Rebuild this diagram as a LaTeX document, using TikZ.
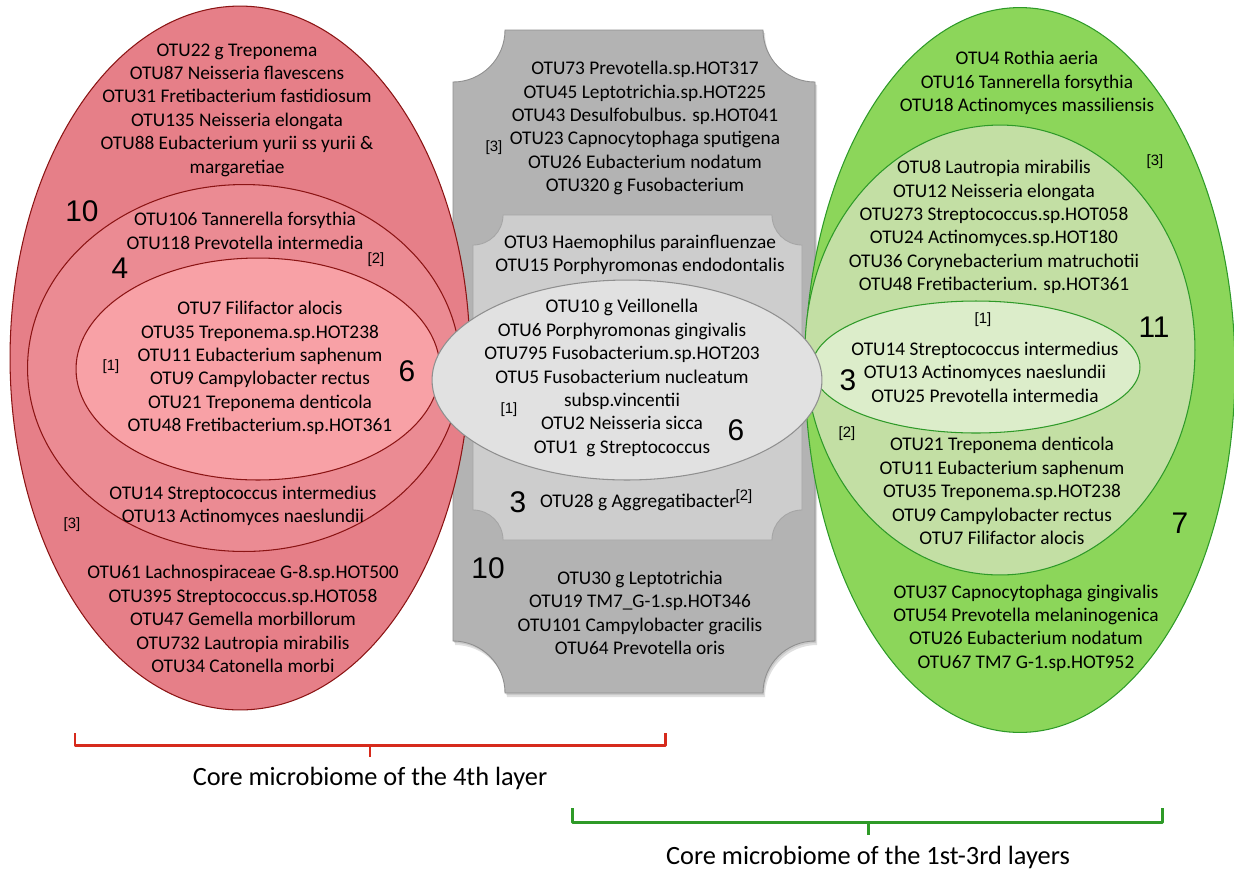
\documentclass[tikz,border=0pt]{standalone}
\usepackage{fontspec}
\setmainfont{Carlito}
\newfontfamily\numfont{Liberation Sans}
\usetikzlibrary{shapes.geometric}
\definecolor{redA}{HTML}{E67F88}
\definecolor{redB}{HTML}{EB8B93}
\definecolor{redC}{HTML}{F8A1A6}
\definecolor{redLine}{HTML}{8B1414}
\definecolor{grnA}{HTML}{8CD65A}
\definecolor{grnB}{HTML}{C3DFA4}
\definecolor{grnC}{HTML}{DCEDCA}
\definecolor{grnLine}{HTML}{2E9A28}
\definecolor{grayA}{HTML}{B3B3B3}
\definecolor{grayB}{HTML}{CDCDCD}
\definecolor{grayC}{HTML}{E1E1E1}
\definecolor{grayLine}{HTML}{8F8F8F}
\definecolor{brRed}{HTML}{D62A1C}
\definecolor{brGrn}{HTML}{2E9A28}
\newcommand\myplaque[6]{%
  \path[#1] ({#2+#6},#3) -- ({#4-#6},#3)
    arc[start angle=180,end angle=270,radius=#6*0.02cm] -- (#4,{#5-#6})
    arc[start angle=90,end angle=180,radius=#6*0.02cm] -- ({#2+#6},#5)
    arc[start angle=0,end angle=90,radius=#6*0.02cm] -- (#2,{#3+#6})
    arc[start angle=270,end angle=360,radius=#6*0.02cm] -- cycle;}
\begin{document}
\begin{tikzpicture}[x=0.02cm,y=-0.02cm,
  otu/.style={align=center,font=\fontsize{11}{13.3}\selectfont,inner sep=0pt},
  big/.style={font=\numfont\fontsize{17}{17}\selectfont,inner sep=0pt},
  ref/.style={font=\numfont\fontsize{8.5}{8.5}\selectfont,inner sep=0pt},
  captext/.style={font=\fontsize{15}{15}\selectfont,inner sep=0pt},
  ell/.style={ellipse,inner sep=0pt,line width=0.6pt},
  redell/.style={ell,draw=redLine},
  grnell/.style={ell,draw=grnLine},
  bracket/.style={line width=1.7pt,line join=round}]
\useasboundingbox (0,0) rectangle (1234,870);
% gray plaques (with soft shadow)
\myplaque{fill=black,opacity=0.12}{455}{33}{817}{697}{52}
\myplaque{fill=black,opacity=0.10}{454}{32}{816}{695}{52}
\myplaque{fill=grayA,draw=grayLine,line width=0.5pt}{453}{30}{815}{693}{52}
\myplaque{fill=grayB,draw=grayLine!80,line width=0.5pt}{473}{215}{802}{540}{30}
% red ellipses
\node[redell,fill=redA,minimum width=9.2cm,minimum height=14.08cm] (redouter) at (240,358) {};
\node[redell,fill=redB,minimum width=8.66cm,minimum height=7.34cm] (redmid) at (244,368) {};
\node[redell,fill=redC,minimum width=7.28cm,minimum height=4.44cm] (redinner) at (258,369) {};
% green ellipses
\node[grnell,fill=grnA,minimum width=8.6cm,minimum height=14.5cm] (grnouter) at (1020,370) {};
\node[grnell,fill=grnB,minimum width=7.8cm,minimum height=9.0cm] (grnmid) at (1000,350) {};
\node[grnell,fill=grnC,minimum width=6.56cm,minimum height=2.64cm] (grninner) at (976,367) {};
% central ellipse
\node[ell,draw=grayLine,fill=grayC,minimum width=7.8cm,minimum height=4.0cm] (core) at (627,380) {};
% red texts
\node[otu] (rA) at (237,110) {OTU22 g Treponema\\OTU87 Neisseria flavescens\\OTU31 Fretibacterium fastidiosum\\OTU135 Neisseria elongata\\OTU88 Eubacterium yurii ss yurii \&\\margaretiae};
\node[big] (rn10) at (82,211) {10};
\node[otu] (rB) at (245,231) {OTU106 Tannerella forsythia\\OTU118 Prevotella intermedia};
\node[big] (rn4) at (120,268) {4};
\node[ref] (rr2) at (376,260) {[2]};
\node[otu] (rC) at (260,368) {OTU7 Filifactor alocis\\OTU35 Treponema.sp.HOT238\\OTU11 Eubacterium saphenum\\OTU9 Campylobacter rectus\\OTU21 Treponema denticola\\OTU48 Fretibacterium.sp.HOT361};
\node[ref] (rr1) at (111,367) {[1]};
\node[big] (rn6) at (407,371) {6};
\node[otu] (rD) at (243,506) {OTU14 Streptococcus intermedius\\OTU13 Actinomyces naeslundii};
\node[ref] (rr3) at (72,525) {[3]};
\node[otu] (rE) at (243,619) {OTU61 Lachnospiraceae G-8.sp.HOT500\\OTU395 Streptococcus.sp.HOT058\\OTU47 Gemella morbillorum\\OTU732 Lautropia mirabilis\\OTU34 Catonella morbi};
% gray texts
\node[otu] (gA) at (645,128) {OTU73 Prevotella.sp.HOT317\\OTU45 Leptotrichia.sp.HOT225\\OTU43 Desulfobulbus. sp.HOT041\\OTU23 Capnocytophaga sputigena\\OTU26 Eubacterium nodatum\\OTU320 g Fusobacterium};
\node[ref] (gr3) at (494,148) {[3]};
\node[otu] (gB) at (640,255) {OTU3 Haemophilus parainfluenzae\\OTU15 Porphyromonas endodontalis};
\node[otu] (gC) at (622,378) {OTU10 g Veillonella\\OTU6 Porphyromonas gingivalis\\OTU795 Fusobacterium.sp.HOT203\\OTU5 Fusobacterium nucleatum\\subsp.vincentii\\OTU2 Neisseria sicca\\OTU1\ \ g Streptococcus};
\node[ref] (gr1) at (509,410) {[1]};
\node[big] (gn6) at (736,430) {6};
\node[big] (gn3) at (518,502) {3};
\node[otu] (gD) at (638,502) {OTU28 g Aggregatibacter};
\node[ref] (gr2) at (744,497) {[2]};
\node[big] (gn10) at (488,568) {10};
\node[otu] (gE) at (640,613) {OTU30 g Leptotrichia\\OTU19 TM7\_G-1.sp.HOT346\\OTU101 Campylobacter gracilis\\OTU64 Prevotella oris};
% green texts
\node[otu] (eA) at (1027,83) {OTU4 Rothia aeria\\OTU16 Tannerella forsythia\\OTU18 Actinomyces massiliensis};
\node[otu] (eB) at (994,227) {OTU8 Lautropia mirabilis\\OTU12 Neisseria elongata\\OTU273 Streptococcus.sp.HOT058\\OTU24 Actinomyces.sp.HOT180\\OTU36 Corynebacterium matruchotii\\OTU48 Fretibacterium. sp.HOT361};
\node[ref] (er3) at (1155,162) {[3]};
\node[ref] (er1) at (983,320) {[1]};
\node[big] (en11) at (1154,327) {11};
\node[otu] (eC) at (985,372) {OTU14 Streptococcus intermedius\\OTU13 Actinomyces naeslundii\\OTU25 Prevotella intermedia};
\node[big] (en3) at (848,380) {3};
\node[ref] (er2) at (847,434) {[2]};
\node[otu] (eD) at (1002,491) {OTU21 Treponema denticola\\OTU11 Eubacterium saphenum\\OTU35 Treponema.sp.HOT238\\OTU9 Campylobacter rectus\\OTU7 Filifactor alocis};
\node[big] (en7) at (1180,523) {7};
\node[otu] (eE) at (1026,628) {OTU37 Capnocytophaga gingivalis\\OTU54 Prevotella melaninogenica\\OTU26 Eubacterium nodatum\\OTU67 TM7 G-1.sp.HOT952};
% brackets
\coordinate (rbL) at (75,733); \coordinate (rbR) at (665,733);
\coordinate (rbM) at (370,745); \coordinate (rbT) at (370,757);
\draw[bracket,brRed] (rbL) -- (rbL |- rbM) -- (rbR |- rbM) -- (rbR);
\draw[bracket,brRed] (rbM) -- (rbT);
\node[captext] (capRed) at (370,778) {Core microbiome of the 4th layer};
\coordinate (gbL) at (572,808); \coordinate (gbR) at (1162,808);
\coordinate (gbM) at (868,822); \coordinate (gbT) at (868,835);
\draw[bracket,brGrn] (gbL) -- (gbL |- gbM) -- (gbR |- gbM) -- (gbR);
\draw[bracket,brGrn] (gbM) -- (gbT);
\node[captext] (capGrn) at (868,857) {Core microbiome of the 1st-3rd layers};
\end{tikzpicture}
\end{document}
